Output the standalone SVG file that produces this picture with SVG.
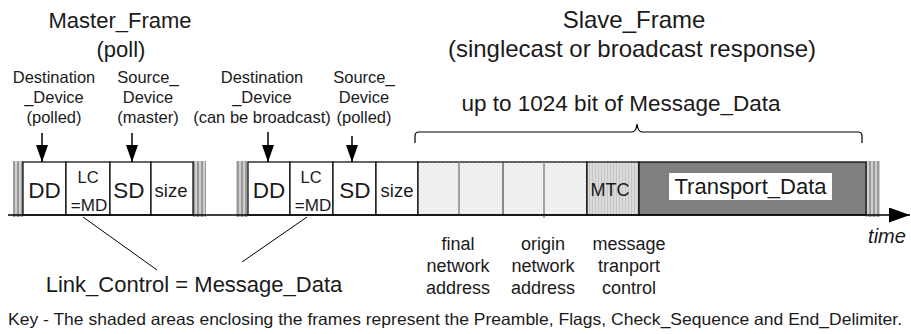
<svg xmlns="http://www.w3.org/2000/svg" width="911" height="334" viewBox="0 0 911 334">
<defs>
<pattern id="stripe" width="4" height="10" patternUnits="userSpaceOnUse">
<rect width="4" height="10" fill="#cfcfcf"/>
<rect x="1" width="2" height="10" fill="#9a9a9a"/>
</pattern>
<pattern id="dots" width="4" height="4" patternUnits="userSpaceOnUse">
<rect width="4" height="4" fill="#f2f2f2"/>
<rect x="1" y="1" width="1" height="1" fill="#d6d6d6"/>
<rect x="3" y="3" width="1" height="1" fill="#dcdcdc"/>
</pattern>
<pattern id="vhatch" width="3" height="10" patternUnits="userSpaceOnUse">
<rect width="3" height="10" fill="#dadada"/>
<rect x="1" width="1" height="10" fill="#c6c6c6"/>
</pattern>
<marker id="ah" markerUnits="userSpaceOnUse" markerWidth="18" markerHeight="14" refX="17" refY="6" orient="auto">
<path d="M0,0 L17,6 L0,12 Z" fill="#000"/>
</marker>
<marker id="ax" markerUnits="userSpaceOnUse" markerWidth="22" markerHeight="16" refX="21" refY="7.5" orient="auto">
<path d="M0,0 L21,7.5 L0,15 Z" fill="#000"/>
</marker>
</defs>
<style>
text{font-family:"Liberation Sans",Arial,sans-serif;fill:#1a1a1a}
.title{font-size:22px;text-anchor:middle}
.stitle{font-size:24px;text-anchor:middle}
.lbl{font-size:16.5px;text-anchor:middle}
.bl{font-size:18px;text-anchor:middle}
.cell{fill:#fff;stroke:#000;stroke-width:1.2}
.pre{fill:url(#stripe)}
.ct{text-anchor:middle}
.conn{stroke:#000;fill:none}
</style>
<rect width="911" height="334" fill="#fff"/>

<g id="titles">
<text class="title" x="120" y="28">Master_Frame</text>
<text class="title" x="121" y="57">(poll)</text>
<text class="stitle" x="634" y="28">Slave_Frame</text>
<text class="stitle" x="632" y="57">(singlecast or broadcast response)</text>
</g>

<g id="labels-top">
<text class="lbl" x="54" y="83">Destination</text>
<text class="lbl" x="54" y="103">_Device</text>
<text class="lbl" x="54" y="123">(polled)</text>
<text class="lbl" x="148" y="83">Source_</text>
<text class="lbl" x="148" y="103">Device</text>
<text class="lbl" x="148" y="123">(master)</text>
<text class="lbl" x="262" y="83">Destination</text>
<text class="lbl" x="262" y="103">_Device</text>
<text class="lbl" x="262" y="123">(can be broadcast)</text>
<text class="lbl" x="364" y="83">Source_</text>
<text class="lbl" x="364" y="103">Device</text>
<text class="lbl" x="364" y="123">(polled)</text>
<text x="621" y="111" style="font-size:22.5px;text-anchor:middle">up to 1024 bit of Message_Data</text>
</g>

<g id="preambles">
<rect class="pre" x="13" y="161" width="10" height="56"/>
<rect class="pre" x="193" y="161" width="13" height="56"/>
<rect class="pre" x="236" y="161" width="12" height="56"/>
<rect class="pre" x="866" y="161" width="14" height="56"/>
</g>

<g id="master-frame">
<rect class="cell" x="23" y="162" width="43" height="53"/>
<rect class="cell" x="66" y="162" width="44" height="53"/>
<rect class="cell" x="110" y="162" width="41" height="53"/>
<rect class="cell" x="151" y="162" width="42" height="53"/>
<text class="ct" x="44.5" y="198" style="font-size:22.5px">DD</text>
<text class="ct" x="88" y="183" style="font-size:16.5px">LC</text>
<text class="ct" x="89" y="211" style="font-size:17px">=MD</text>
<text class="ct" x="129" y="198" style="font-size:22.5px">SD</text>
<text class="ct" x="171" y="197" style="font-size:18.5px">size</text>
</g>

<g id="slave-frame">
<rect class="cell" x="248" y="162" width="42" height="53"/>
<rect class="cell" x="290" y="162" width="43" height="53"/>
<rect class="cell" x="333" y="162" width="43" height="53"/>
<rect class="cell" x="376" y="162" width="42" height="53"/>
<text class="ct" x="269" y="198" style="font-size:22.5px">DD</text>
<text class="ct" x="311" y="183" style="font-size:16.5px">LC</text>
<text class="ct" x="313" y="211" style="font-size:17px">=MD</text>
<text class="ct" x="355" y="198" style="font-size:22.5px">SD</text>
<text class="ct" x="397" y="197" style="font-size:18.5px">size</text>
<rect x="418" y="162" width="169" height="53" fill="url(#dots)" stroke="#000" stroke-width="1.2"/>
<line x1="459" y1="162" x2="459" y2="216" stroke="#888" stroke-width="1.5"/>
<line x1="503" y1="162" x2="503" y2="215" stroke="#444" stroke-width="1.2"/>
<line x1="544" y1="162" x2="544" y2="218" stroke="#888" stroke-width="1.5"/>
<rect x="587" y="162" width="52" height="53" fill="url(#vhatch)" stroke="#000" stroke-width="1.2"/>
<text class="ct" x="610" y="196" style="font-size:18px">MTC</text>
<rect x="639" y="162" width="227" height="53" fill="#808080" stroke="#000" stroke-width="1.2"/>
<rect x="669" y="173" width="163" height="27" fill="#fff"/>
<text class="ct" x="750.5" y="194" style="font-size:22px">Transport_Data</text>
</g>

<g id="labels-bottom">
<text class="bl" x="458" y="250">final</text>
<text class="bl" x="458" y="272">network</text>
<text class="bl" x="458" y="294">address</text>
<text class="bl" x="543" y="250">origin</text>
<text class="bl" x="543" y="272">network</text>
<text class="bl" x="543" y="294">address</text>
<text class="bl" x="629" y="250">message</text>
<text class="bl" x="629" y="272">tranport</text>
<text class="bl" x="629" y="294">control</text>
<text x="887" y="243" style="font-size:20px;font-style:italic;text-anchor:middle">time</text>
<text x="194" y="292" style="font-size:22px;text-anchor:middle">Link_Control = Message_Data</text>
<text x="8" y="325" textLength="894" lengthAdjust="spacingAndGlyphs" style="font-size:16.5px">Key - The shaded areas enclosing the frames represent the Preamble, Flags, Check_Sequence and End_Delimiter.</text>
</g>

<g id="connectors">
<line class="conn" x1="8" y1="215" x2="910" y2="215" stroke-width="1.5" marker-end="url(#ax)"/>
<line class="conn" x1="42" y1="133" x2="42" y2="162" stroke-width="1.5" marker-end="url(#ah)"/>
<line class="conn" x1="132" y1="133" x2="132" y2="162" stroke-width="1.5" marker-end="url(#ah)"/>
<line class="conn" x1="268" y1="132" x2="268" y2="162" stroke-width="1.5" marker-end="url(#ah)"/>
<line class="conn" x1="352" y1="136" x2="352" y2="162" stroke-width="1.5" marker-end="url(#ah)"/>
<line class="conn" x1="83" y1="217" x2="157" y2="270" stroke-width="1"/>
<line class="conn" x1="307" y1="217" x2="242" y2="262" stroke-width="1"/>
<path class="conn" stroke="#555" stroke-width="1.2" d="M415,143 L415,136 Q415,132 419,132 L632,132 Q636,132 637,124 Q638,132 642,132 L858,132 Q862,132 862,136 L862,143"/>
</g>
</svg>
